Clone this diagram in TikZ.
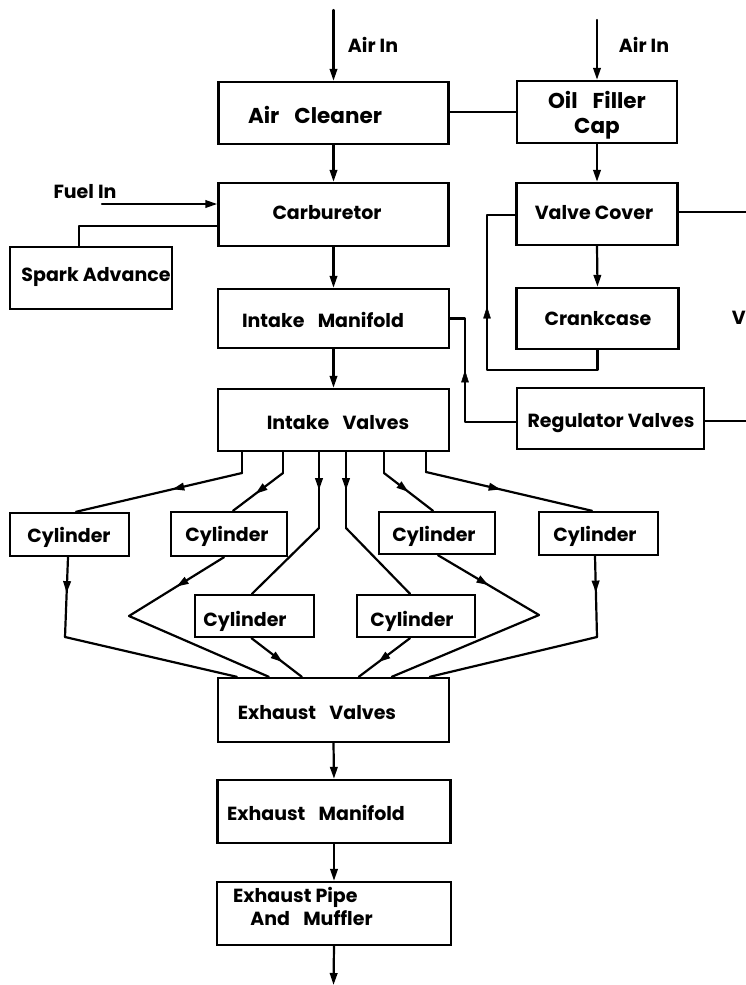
\documentclass[tikz,border=0pt]{standalone}
\usepackage{fontspec}
\setmainfont{Poppins}
\usetikzlibrary{arrows.meta,decorations.markings}
\newcommand{\wgap}{\hspace{0.7em}}

\begin{document}
\begin{tikzpicture}[x=1pt,y=-1pt,
  box/.style={draw, line width=2.4pt, rectangle, inner sep=0pt},
  lbl/.style={font=\bfseries\fontsize{19}{23}\selectfont, inner sep=0pt, anchor=center, align=center},
  biglbl/.style={lbl, font=\bfseries\fontsize{21.5}{25}\selectfont},
  flow/.style={line width=2.2pt, line cap=round, line join=round},
  tip/.style={-{Triangle[length=12pt,width=7.5pt]}},
  arrowat/.style={postaction={decorate}, decoration={markings,
      mark=at position #1 with {\arrow{Triangle[length=12pt,width=7.5pt]}}}},
]
\clip (0,0) rectangle (746,985);
\fill[white] (0,0) rectangle (746,985);

% ---- blocks ----
\node[box, minimum width=230pt, minimum height=62pt] (aircleaner) at (333.5,113) {};
\node[box, minimum width=160pt, minimum height=62pt] (oilcap)     at (597,112) {};
\node[box, minimum width=230pt, minimum height=63pt] (carb)       at (333.5,214.5) {};
\node[box, minimum width=161pt, minimum height=62pt] (valvecover) at (597,214) {};
\node[box, minimum width=162pt, minimum height=62pt] (spark)      at (91,278) {};
\node[box, minimum width=231pt, minimum height=59pt] (manifold)   at (333.5,318.5) {};
\node[box, minimum width=162pt, minimum height=61pt] (crankcase)  at (597.5,318.5) {};
\node[box, minimum width=231pt, minimum height=62pt] (intakev)    at (333.5,420) {};
\node[box, minimum width=187pt, minimum height=61pt] (regulator)  at (610.5,418.5) {};
\node[box, minimum width=119pt, minimum height=43pt] (cyl1) at (69.5,534.5) {};
\node[box, minimum width=116pt, minimum height=44pt] (cyl2) at (229,534) {};
\node[box, minimum width=116pt, minimum height=42pt] (cyl3) at (437,533) {};
\node[box, minimum width=119pt, minimum height=43pt] (cyl4) at (598.5,533.5) {};
\node[box, minimum width=119pt, minimum height=42pt] (cyl5) at (254.5,616) {};
\node[box, minimum width=118pt, minimum height=42pt] (cyl6) at (416,616) {};
\node[box, minimum width=231pt, minimum height=64pt] (exhv) at (333.5,710) {};
\node[box, minimum width=233pt, minimum height=63pt] (exhm) at (334,811.5) {};
\node[box, minimum width=234pt, minimum height=63pt] (pipe) at (334,913.5) {};

% ---- labels ----
\node[lbl] (t-airin1) at (373,45) {Air In};
\node[lbl] (t-airin2) at (644,45) {Air In};
\node[lbl] (t-fuel)   at (85,192) {Fuel In};
\node[biglbl] (t-aircl)  at (315,115) {Air\wgap Cleaner};
\node[biglbl] (t-oil)    at (597,115) {Oil\wgap Filler\\Cap};
\node[lbl] (t-carb)   at (327,213) {Carburetor};
\node[lbl] (t-vc)     at (594,213) {Valve Cover};
\node[lbl] (t-spark)  at (96,277) {Spark Advance};
\node[lbl] (t-man)    at (323,320) {Intake\wgap Manifold};
\node[lbl] (t-crank)  at (598,319) {Crankcase};
\node[lbl] (t-iv)     at (338,423) {Intake\wgap Valves};
\node[lbl] (t-reg)    at (611,423) {Regulator Valves};
\node[lbl] (t-c1) at (69,537)  {Cylinder};
\node[lbl] (t-c2) at (227,536) {Cylinder};
\node[lbl] (t-c3) at (434,536) {Cylinder};
\node[lbl] (t-c4) at (595,536) {Cylinder};
\node[lbl] (t-c5) at (245,621) {Cylinder};
\node[lbl] (t-c6) at (412,621) {Cylinder};
\node[lbl] (t-ev) at (317,713) {Exhaust\wgap Valves};
\node[lbl] (t-em) at (316,813) {Exhaust\wgap Manifold};
\node[lbl, align=left, anchor=west] (t-pipe) at (233,906) {Exhaust Pipe\\\hspace*{0.9em}And\wgap Muffler};
\node[lbl, anchor=east] (t-v) at (746,318) {V};

% ---- free ends and bends ----
\coordinate (airin1) at (333.5,10);
\coordinate (airin2) at (597,20);
\coordinate (fuelin) at (102,204);
\coordinate (sparkjoin) at (79,226);
\coordinate (vcout) at (746,212);
\coordinate (regout) at (746,421);
\coordinate (loopBL) at (487,370);
\coordinate (loopTL) at (487,215);
\coordinate (regR) at (465,422);
\coordinate (exit) at (333.5,985);
\coordinate (i1) at (242,473);
\coordinate (i2) at (283,473);
\coordinate (i3) at (319,528);
\coordinate (i4) at (346,528);
\coordinate (i5) at (384,473);
\coordinate (i6) at (426,472);
\coordinate (e1) at (65,637);
\coordinate (e2) at (129,616);
\coordinate (e3) at (539,615);
\coordinate (e4) at (597,637);

% ---- upper connectors ----
\draw[flow,tip] (airin1) -- (aircleaner.north);
\draw[flow,tip] (airin2) -- (oilcap.north);
\draw[flow] (aircleaner.east |- oilcap.west) -- (oilcap.west);
\draw[flow,tip] (aircleaner.south) -- (carb.north);
\draw[flow,tip] (oilcap.south) -- (valvecover.north);
\draw[flow,tip] (fuelin) -- (fuelin -| carb.west);
\draw[flow] (carb.west |- sparkjoin) -- (sparkjoin) -- (sparkjoin |- spark.north);
\draw[flow] (valvecover.east |- vcout) -- (vcout);
\draw[flow,tip] (carb.south) -- (manifold.north);
\draw[flow,tip] (valvecover.south) -- (crankcase.north);
\draw[flow,tip] (manifold.south) -- (intakev.north);

% crankcase return loop to the valve cover
\draw[flow] (crankcase.south) |- (loopBL) -- (loopTL) -- (loopTL -| valvecover.west);
\path[arrowat=0.41] (loopBL) -- (loopTL);

% regulator valves to the intake manifold
\draw[flow] (regulator.west |- regR) -- (regR) |- (manifold.east);
\path[arrowat=0.5] (regR) -- (regR |- manifold.east);
\draw[flow] (regulator.east |- regout) -- (regout);

% ---- intake valves to cylinders ----
\draw[flow] (intakev.south -| i1) -- (i1);
\draw[flow,arrowat=0.42] (i1) -- ([xshift=6.5pt]cyl1.north);
\draw[flow] (intakev.south -| i2) -- (i2);
\draw[flow,arrowat=0.55] (i2) -- ([xshift=4pt]cyl2.north);
\draw[flow,arrowat=0.5] (intakev.south -| i3) -- (i3);
\draw[flow] (i3) -- ([xshift=-2.5pt]cyl5.north);
\draw[flow,arrowat=0.5] (intakev.south -| i4) -- (i4);
\draw[flow] (i4) -- ([xshift=-6pt]cyl6.north);
\draw[flow] (intakev.south -| i5) -- (i5);
\draw[flow,arrowat=0.5] (i5) -- ([xshift=-4pt]cyl3.north);
\draw[flow] (intakev.south -| i6) -- (i6);
\draw[flow,arrowat=0.45] (i6) -- ([xshift=-6.5pt]cyl4.north);

% ---- cylinders to exhaust valves ----
\draw[flow,arrowat=0.45] ([xshift=-1.5pt]cyl1.south) -- (e1);
\draw[flow] (e1) -- ([xshift=20pt]exhv.north west);
\draw[flow,arrowat=0.5] ([xshift=-5pt]cyl2.south) -- (e2);
\draw[flow] (e2) -- ([xshift=52pt]exhv.north west);
\draw[flow,arrowat=0.62] ([xshift=-3pt]cyl5.south) -- ([xshift=85pt]exhv.north west);
\draw[flow,arrowat=0.62] ([xshift=-6pt]cyl6.south) -- ([xshift=142pt]exhv.north west);
\draw[flow,arrowat=0.5] ([xshift=1pt]cyl3.south) -- (e3);
\draw[flow] (e3) -- ([xshift=175pt]exhv.north west);
\draw[flow,arrowat=0.45] ([xshift=-3.5pt]cyl4.south) -- (e4);
\draw[flow] (e4) -- ([xshift=213pt]exhv.north west);

% ---- exhaust chain ----
\draw[flow,tip] (exhv.south) -- (exhm.north);
\draw[flow,tip] (exhm.south) -- (pipe.north);
\draw[flow,tip] (pipe.south) -- (exit);
\end{tikzpicture}
\end{document}
